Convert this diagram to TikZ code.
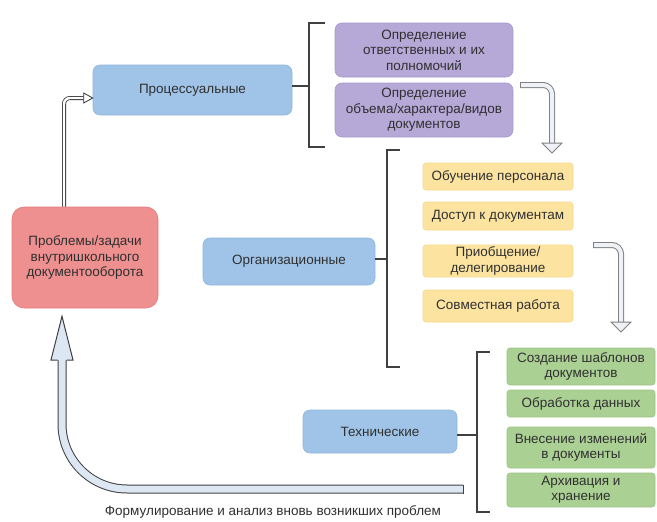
\documentclass[tikz,border=0pt]{standalone}
\usepackage{fontspec}
\setmainfont{Liberation Sans}
\usetikzlibrary{calc}
\definecolor{redf}{HTML}{EF9090}
\definecolor{redd}{HTML}{E07C7C}
\definecolor{bluef}{HTML}{A0C4E8}
\definecolor{blued}{HTML}{8FB6DD}
\definecolor{purf}{HTML}{B6A9D8}
\definecolor{purd}{HTML}{A799CC}
\definecolor{yelf}{HTML}{FCE4A0}
\definecolor{yeld}{HTML}{F4D88C}
\definecolor{grnf}{HTML}{ABD094}
\definecolor{grnd}{HTML}{9CC485}
\definecolor{arrg}{HTML}{808080}
\definecolor{arrf}{HTML}{EEF2F7}
\definecolor{bigf}{HTML}{DCE7F3}
\definecolor{txt}{HTML}{303030}
\definecolor{brc}{HTML}{404040}
\begin{document}
\begin{tikzpicture}[x=1pt,y=-1pt,font=\fontsize{13.5}{15.5}\selectfont,
  bx/.style={rectangle,rounded corners=7pt,inner sep=2pt,align=center,line width=0.6pt,text=txt},
  redbox/.style={bx,fill=redf,draw=redd,rounded corners=12pt},
  bluebox/.style={bx,fill=bluef,draw=blued},
  purbox/.style={bx,fill=purf,draw=purd},
  yelbox/.style={bx,fill=yelf,draw=yeld,rounded corners=3pt},
  grnbox/.style={bx,fill=grnf,draw=grnd,rounded corners=3pt},
  brace/.style={draw=brc,line width=1.2pt},
  hollow/.style={draw=arrg,line width=1pt,double=arrf,double distance=4pt,rounded corners=9pt},
  headg/.style={draw=arrg,line width=1pt,fill=arrf,line join=miter}]
\useasboundingbox (0,0) rectangle (657,522);

% main nodes
\node[redbox,minimum width=146pt,minimum height=101pt] (prob) at (85,257.5) {Проблемы/задачи\\внутришкольного\\документооборота};
\node[bluebox,minimum width=199pt,minimum height=50pt] (proc) at (192.5,90) {Процессуальные};
\node[bluebox,minimum width=172pt,minimum height=47pt] (org) at (289,261.5) {Организационные};
\node[bluebox,minimum width=154pt,minimum height=43pt] (tech) at (380,431.5) {Технические};

\node[purbox,minimum width=178pt,minimum height=54pt] (p1) at (424,50) {Определение\\ответственных и их\\полномочий};
\node[purbox,minimum width=178pt,minimum height=54pt] (p2) at (424,110) {Определение\\объема/характера/видов\\документов};

\node[yelbox,minimum width=150pt,minimum height=27pt] (y1) at (498,176.5) {Обучение персонала};
\node[yelbox,minimum width=150pt,minimum height=28pt] (y2) at (498,216) {Доступ к документам};
\node[yelbox,minimum width=150pt,minimum height=32pt] (y3) at (498,261) {Приобщение/\\делегирование};
\node[yelbox,minimum width=150pt,minimum height=32pt] (y4) at (498,306) {Совместная работа};

\node[grnbox,minimum width=148pt,minimum height=37pt] (g1) at (581,366.5) {Создание шаблонов\\документов};
\node[grnbox,minimum width=148pt,minimum height=27pt] (g2) at (581,403.5) {Обработка данных};
\node[grnbox,minimum width=148pt,minimum height=41pt] (g3) at (581,447.5) {Внесение изменений\\в документы};
\node[grnbox,minimum width=148pt,minimum height=34pt] (g4) at (581,490) {Архивация и\\хранение};

\node[text=txt] (cap) at (273,512) {Формулирование и анализ вновь возникших проблем};

% braces
\coordinate (b1m) at (309,86);
\draw[brace] (proc.east |- b1m) -- (b1m);
\draw[brace] (325,23) -- (309,23) -- (309,147) -- (325,147);
\coordinate (b2m) at (387,259);
\draw[brace] (org.east |- b2m) -- (b2m);
\draw[brace] (400,150) -- (387,150) -- (387,367) -- (400,367);
\coordinate (b3m) at (477,435);
\draw[brace] (tech.east |- b3m) -- (b3m);
\draw[brace] (490,352) -- (477,352) -- (477,512) -- (490,512);

% arrow prob -> proc (thin black hollow)
\coordinate (a1s) at ($(prob.north)+(-21,0)$);
\coordinate (a1c) at (64,98);
\coordinate (a1e) at ($(proc.west |- a1c)+(-9,0)$);
\draw[draw=black!80,line width=0.8pt,double=white,double distance=2.4pt,rounded corners=6pt] (a1s) -- (a1c) -- (a1e);
\draw[draw=black!80,line width=0.8pt,fill=white] ($(a1e)+(0,-5)$) -- (proc.west |- a1c) -- ($(a1e)+(0,5)$) -- cycle;

% arrow p2 -> yellow
\coordinate (a2s) at ($(p2.east)+(7,-25)$);
\coordinate (a2c) at (552,85);
\coordinate (a2e) at (552,143);
\draw[hollow] (a2s) -- (a2c) -- (a2e);
\draw[arrg,line width=1pt] ($(a2s)+(0,-3)$) -- ($(a2s)+(0,3)$);
\draw[headg] ($(a2e)+(-10,0)$) -- ($(a2e)+(0,10)$) -- ($(a2e)+(10,0)$) -- cycle;

% arrow y3 -> green
\coordinate (a3s) at ($(y3.east)+(20,-16)$);
\coordinate (a3c) at (621,245);
\coordinate (a3e) at (621,322);
\draw[hollow] (a3s) -- (a3c) -- (a3e);
\draw[arrg,line width=1pt] ($(a3s)+(0,-3)$) -- ($(a3s)+(0,3)$);
\draw[headg] ($(a3e)+(-10,0)$) -- ($(a3e)+(0,10)$) -- ($(a3e)+(10,0)$) -- cycle;

% big feedback arrow
\coordinate (a4s) at (463,489);
\coordinate (a4c) at (62,489);
\coordinate (a4e) at (62,360);
\draw[draw=brc,line width=1pt,double=bigf,double distance=7pt,rounded corners=65pt] (a4s) -- (a4c) -- (a4e);
\draw[brc,line width=1pt] ($(a4s)+(0,-4.5)$) -- ($(a4s)+(0,4.5)$);
\fill[bigf] ($(a4e)+(-11,0)$) -- ($(prob.south)+(-23,8)$) -- ($(a4e)+(11,0)$) -- cycle;
\draw[brc,line width=1pt,line join=miter] ($(a4e)+(-4.5,0)$) -- ($(a4e)+(-11,0)$) -- ($(prob.south)+(-23,8)$) -- ($(a4e)+(11,0)$) -- ($(a4e)+(4.5,0)$);
\end{tikzpicture}
\end{document}
